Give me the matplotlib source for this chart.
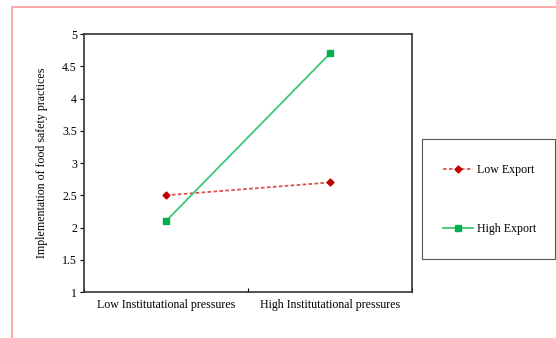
import matplotlib
matplotlib.use("Agg")
import matplotlib.pyplot as plt
from matplotlib.patches import Rectangle

plt.rcParams['font.family'] = ['Liberation Serif', 'DejaVu Serif']

# data
categories = ["Low Institutational pressures", "High Institutational pressures"]
low_export = [2.5, 2.7]
high_export = [2.1, 4.7]
y_ticks = [1, 1.5, 2, 2.5, 3, 3.5, 4, 4.5, 5]
y_labels = ["1", "1.5", "2", "2.5", "3", "3.5", "4", "4.5", "5"]

fig = plt.figure(figsize=(5.56, 3.38), dpi=100)
ax = fig.add_axes([0.151, 0.136, 0.590, 0.763])

xpos = [0.5, 1.5]
l1, = ax.plot(xpos, low_export, color="#d9534f", linestyle=(0, (2, 1.3)), linewidth=1.3,
              marker="D", markersize=3.5, markerfacecolor="#c00000", markeredgecolor="#c00000",
              label="Low Export")
l2, = ax.plot(xpos, high_export, color="#3cc878", linestyle="-", linewidth=1.3,
              marker="s", markersize=4.5, markerfacecolor="#00b050", markeredgecolor="#00b050",
              label="High Export")

ax.set_xlim(0, 2)
ax.set_ylim(1, 5)
ax.set_xticks([0, 1, 2])
ax.set_xticklabels([])
ax.set_xticks(xpos, minor=True)
ax.set_xticklabels(categories, minor=True, fontsize=8.6)
ax.tick_params(axis="x", which="minor", length=0, pad=5)
ax.tick_params(axis="x", which="major", length=3, direction="in")
ax.set_yticks(y_ticks)
ax.set_yticklabels(y_labels, fontsize=8.6)
ax.tick_params(axis="y", length=3, direction="out", pad=2)
ax.set_ylabel("Implementation of food safety practices", fontsize=8.6, labelpad=10)
for s in ax.spines.values():
    s.set_linewidth(1.2)
    s.set_color("#333333")

# legend box
fig.patches.append(Rectangle((0.759, 0.234), 0.239, 0.355, transform=fig.transFigure,
                             fill=False, edgecolor="#555555", linewidth=0.8))
fig.legend(handles=[l1, l2], loc="center left", bbox_to_anchor=(0.797, 0.41), frameon=False,
           fontsize=8.6, handlelength=2.5, labelspacing=3.9, handletextpad=0.3,
           borderpad=0, borderaxespad=0)

# outer pink border
fig.patches.append(Rectangle((0.0216, -0.1), 1.2, 1.079, transform=fig.transFigure,
                             fill=False, edgecolor="#ff9a9a", linewidth=1.2))

fig.savefig("out.png", dpi=100)
